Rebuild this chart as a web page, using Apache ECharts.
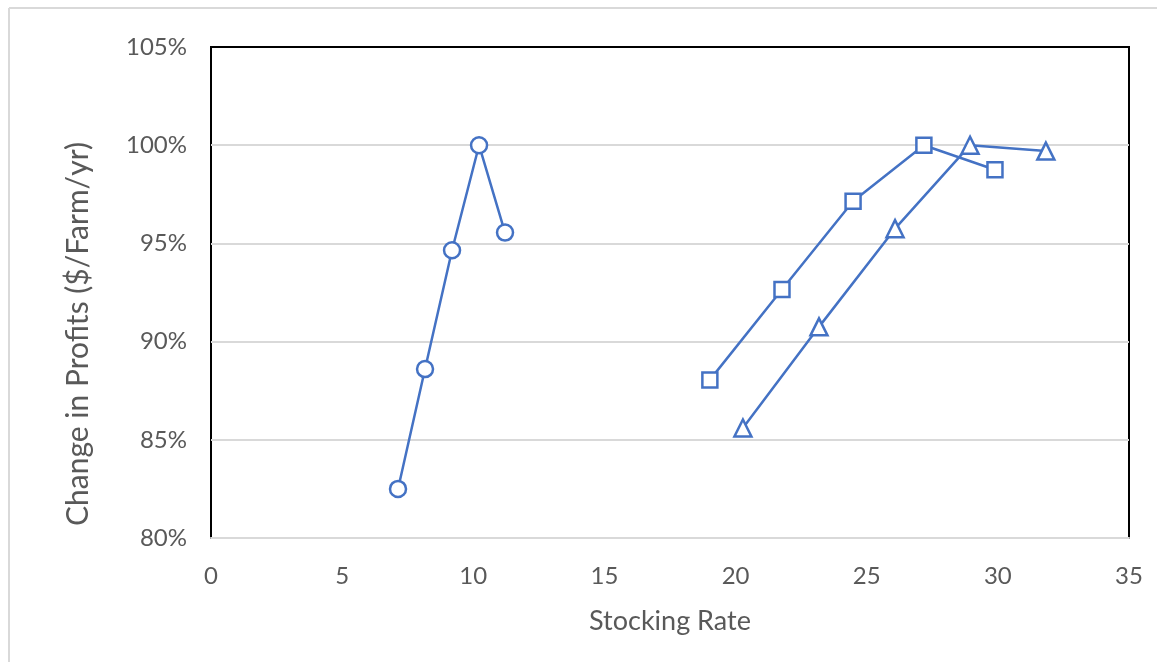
<!DOCTYPE html>
<html>
<head>
<meta charset="utf-8">
<style>
  html, body { margin: 0; padding: 0; background: #fff; }
  #chart { width: 1157px; height: 662px; }
</style>
<script src="https://cdn.jsdelivr.net/npm/echarts@6/dist/echarts.min.js"></script>
</head>
<body>
<div id="chart"></div>
<script>
// Stocking rate (x) and relative profit in % (y) for three scenarios
const circleRates   = [7.13, 8.16, 9.19, 10.22, 11.21];
const circleProfits = [82.5, 88.6, 94.65, 100.0, 95.55];

const squareRates   = [19.02, 21.77, 24.48, 27.18, 29.89];
const squareProfits = [88.05, 92.65, 97.15, 100.0, 98.75];

const triangleRates   = [20.28, 23.18, 26.08, 28.94, 31.83];
const triangleProfits = [85.6, 90.75, 95.75, 100.0, 99.7];

const xTicks = [0, 5, 10, 15, 20, 25, 30, 35];
const yTicks = [80, 85, 90, 95, 100, 105];

const xTitle = 'Stocking Rate';
const yTitle = 'Change in Profits ($/Farm/yr)';

const FONT = 'Lato, "Open Sans", sans-serif';
const TEXT = '#595959';
const BLUE = '#4472C4';
const GRID_GRAY = '#d9d9d9';

const pairs = (xs, ys) => xs.map((x, i) => [x, ys[i]]);

function lineSeries(name, xs, ys, symbol, size) {
  return {
    name: name,
    type: 'line',
    data: pairs(xs, ys),
    symbol: symbol,
    symbolSize: size,
    showAllSymbol: true,
    lineStyle: { color: BLUE, width: 2.5 },
    itemStyle: { color: '#fff', borderColor: BLUE, borderWidth: 2.5 },
    emphasis: { disabled: true },
    z: 3
  };
}

const chart = echarts.init(document.getElementById('chart'), null, { renderer: 'canvas' });

chart.setOption({
  animation: false,
  backgroundColor: '#fff',
  grid: {
    left: 211, top: 47, right: 28, bottom: 124,
    show: true,
    borderColor: '#000',
    borderWidth: 2,
    backgroundColor: 'transparent'
  },
  xAxis: [
    {
      type: 'value',
      min: xTicks[0],
      max: xTicks[xTicks.length - 1],
      interval: 5,
      name: xTitle,
      nameLocation: 'middle',
      nameGap: 70,
      nameTextStyle: { fontFamily: FONT, fontSize: 27, color: TEXT },
      axisLine: { show: true, lineStyle: { color: GRID_GRAY, width: 2 } },
      axisTick: { show: false },
      splitLine: { show: false },
      axisLabel: { fontFamily: FONT, fontSize: 24, color: TEXT, margin: 26 }
    },
    {
      // black frame edge along the top of the plot
      type: 'value',
      position: 'top',
      min: xTicks[0],
      max: xTicks[xTicks.length - 1],
      interval: 5,
      z: 5,
      axisLine: { show: true, lineStyle: { color: '#000', width: 2 } },
      axisTick: { show: false },
      axisLabel: { show: false },
      splitLine: { show: false }
    }
  ],
  yAxis: {
    type: 'value',
    min: yTicks[0],
    max: yTicks[yTicks.length - 1],
    interval: 5,
    axisLine: { show: false },
    axisTick: { show: false },
    splitLine: { show: true, lineStyle: { color: GRID_GRAY, width: 2 } },
    axisLabel: {
      fontFamily: FONT, fontSize: 24, color: TEXT, margin: 24,
      formatter: v => v + '%'
    }
  },
  graphic: [
    {
      type: 'line',
      shape: { x1: 9, y1: 8, x2: 1157, y2: 8 },
      style: { stroke: GRID_GRAY, lineWidth: 2 },
      silent: true
    },
    {
      type: 'line',
      shape: { x1: 9, y1: 8, x2: 9, y2: 662 },
      style: { stroke: GRID_GRAY, lineWidth: 2 },
      silent: true
    },
    {
      type: 'text',
      x: 78,
      y: 334,
      rotation: Math.PI / 2,
      style: {
        text: yTitle,
        fontFamily: FONT,
        fontSize: 30,
        fill: TEXT,
        textAlign: 'center',
        textVerticalAlign: 'middle'
      },
      silent: true
    }
  ],
  series: [
    lineSeries('Circles', circleRates, circleProfits, 'circle', 16),
    lineSeries('Squares', squareRates, squareProfits, 'rect', 15),
    lineSeries('Triangles', triangleRates, triangleProfits, 'triangle', 17)
  ]
});
</script>
</body>
</html>
